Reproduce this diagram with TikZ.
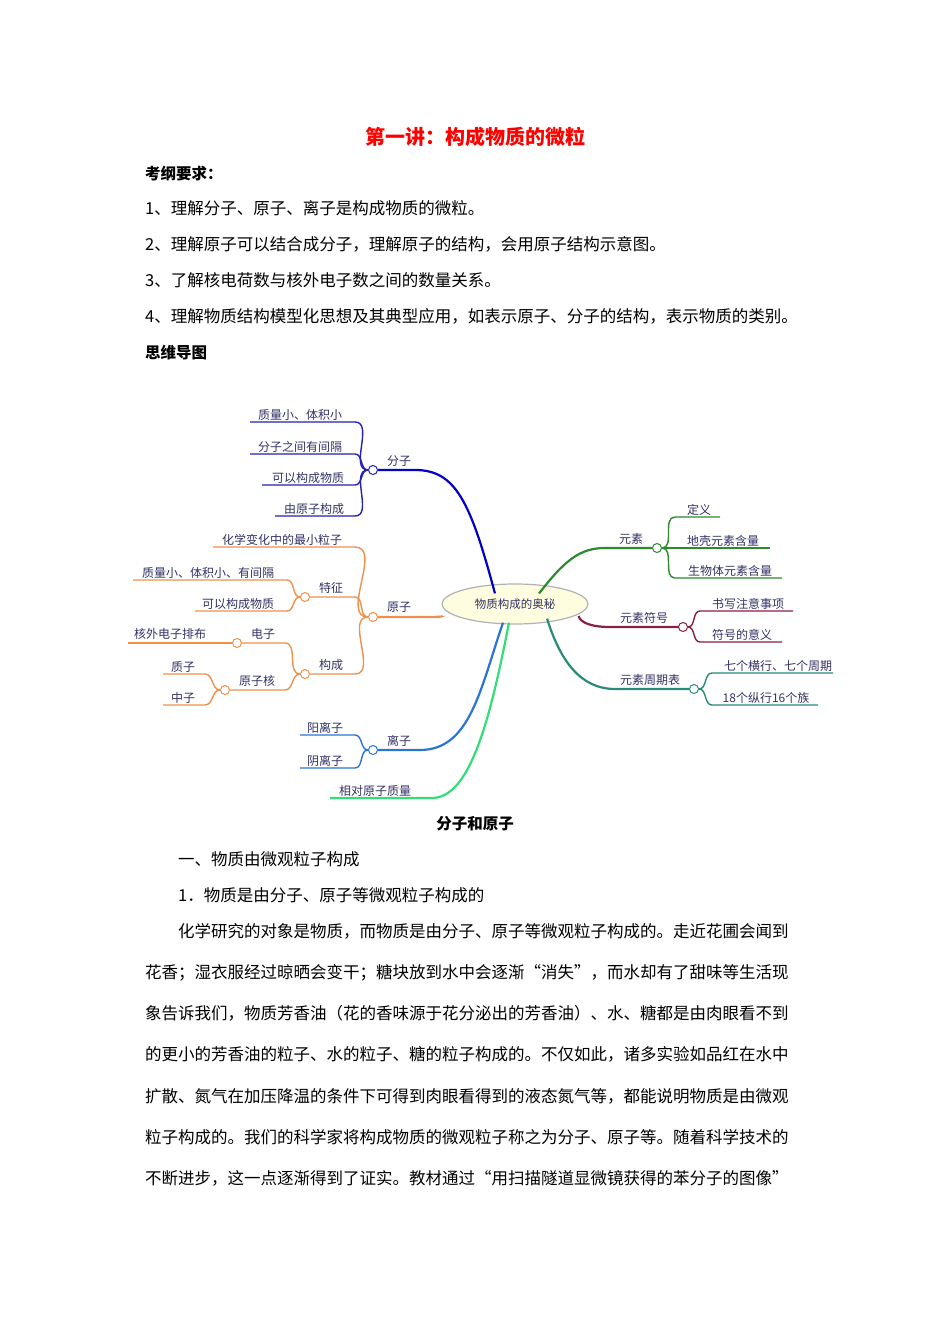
\documentclass[tikz,border=0pt]{standalone}
\usepackage{fontspec}
\setmainfont{Noto Sans CJK SC}
\usetikzlibrary{shapes.geometric}
\definecolor{fz}{HTML}{2323B0}
\definecolor{fzm}{HTML}{0000C8}
\definecolor{yz}{HTML}{F0904A}
\definecolor{lz}{HTML}{2C74D4}
\definecolor{xd}{HTML}{33DD77}
\definecolor{ys}{HTML}{2E8A2E}
\definecolor{fh}{HTML}{8A2044}
\definecolor{zq}{HTML}{2A8A7A}
\definecolor{mt}{HTML}{333366}
\tikzset{
 body/.style={anchor=base west,inner sep=0,font=\fontsize{16.5}{18}\selectfont},
 bold/.style={body,font=\fontsize{15.5}{18}\selectfont\bfseries},
 mm/.style={inner sep=1pt,text=mt,font=\fontsize{12}{13}\selectfont},
 knot/.style={circle,draw=#1,fill=white,line width=1pt,minimum size=9pt,inner sep=0},
 sub/.style={draw=#1,line width=1.4pt},
 trunk/.style={draw=#1,line width=2.2pt},
}
\newcommand\lch[8]{%
 \coordinate (#2e) at (#4,#5); \coordinate (#2s) at (#3,#5);
 \draw[sub=#7] (#1.west) to[out=180,in=0] (#2e) -- (#2s);
 \node[mm,anchor=south] (#2t) at (#8,#5) {#6};}
\newcommand\rch[8]{%
 \coordinate (#2e) at (#4,#5); \coordinate (#2s) at (#3,#5);
 \draw[sub=#7] (#1.east) to[out=0,in=180] (#2s) -- (#2e);
 \node[mm,anchor=south] (#2t) at (#8,#5) {#6};}
\begin{document}
\begin{tikzpicture}[x=1pt,y=-1pt]
\useasboundingbox (0,0) rectangle (950,1344);
\fill[white] (0,0) rectangle (950,1344);
\node[anchor=base,inner sep=0,text=red,font=\fontsize{20}{22}\selectfont\bfseries] (title) at (475,144) {第一讲：构成物质的微粒};
\node[bold] (kg) at (145,179) {考纲要求：};
\node[body] (l1) at (145,214) {1、理解分子、原子、离子是构成物质的微粒。};
\node[body] (l2) at (145,250) {2、理解原子可以结合成分子，理解原子的结构，会用原子结构示意图。};
\node[body] (l3) at (145,286) {3、了解核电荷数与核外电子数之间的数量关系。};
\node[body] (l4) at (145,322) {4、理解物质结构模型化思想及其典型应用，如表示原子、分子的结构，表示物质的类别。};
\node[bold] (sw) at (145,358) {思维导图};
\node[anchor=base,inner sep=0,font=\fontsize{15.5}{18}\selectfont\bfseries] (fzyz) at (475,829) {分子和原子};
\node[body] (p1) at (178,865) {一、物质由微观粒子构成};
\node[body] (p2) at (178,901) {1．物质是由分子、原子等微观粒子构成的};
\node[body] (q1) at (178,937) {化学研究的对象是物质，而物质是由分子、原子等微观粒子构成的。走近花圃会闻到};
\node[body] (q2) at (145,978) {花香；湿衣服经过晾晒会变干；糖块放到水中会逐渐“消失”，而水却有了甜味等生活现};
\node[body] (q3) at (145,1019) {象告诉我们，物质芳香油（花的香味源于花分泌出的芳香油）、水、糖都是由肉眼看不到};
\node[body] (q4) at (145,1060) {的更小的芳香油的粒子、水的粒子、糖的粒子构成的。不仅如此，诸多实验如品红在水中};
\node[body] (q5) at (145,1102) {扩散、氮气在加压降温的条件下可得到肉眼看得到的液态氮气等，都能说明物质是由微观};
\node[body] (q6) at (145,1143) {粒子构成的。我们的科学家将构成物质的微观粒子称之为分子、原子等。随着科学技术的};
\node[body] (q7) at (145,1184) {不断进步，这一点逐渐得到了证实。教材通过“用扫描隧道显微镜获得的苯分子的图像”};
\node[ellipse,draw=black!30,fill=yellow!12,line width=1.2pt,minimum width=146pt,minimum height=40pt,inner sep=0,text=mt,font=\fontsize{11.5}{13}\selectfont] (c) at (515,604) {物质构成的奥秘};
\node[knot=fz] (kfz) at (373,470) {};
\node[mm,anchor=south west] at (386,468) {分子};
\draw[trunk=fzm] (c.north west) ++(32,4) coordinate (a1) (a1) .. controls (470,500) and (455,470) .. (415,470) -- (kfz.east);
\node[knot=yz] (kyz) at (373,617) {};
\node[mm,anchor=south west] at (386,614) {原子};
\draw[trunk=yz] (c.west) ++(0,12) coordinate (a2) (a2) .. controls (445,617) and (430,617) .. (420,617) -- (kyz.east);
\node[knot=lz] (klz) at (373,750) {};
\node[mm,anchor=south west] at (386,748) {离子};
\draw[trunk=lz] (c.south) ++(-12,-2) coordinate (a3) (a3) .. controls (480,690) and (470,750) .. (420,750) -- (klz.east);
\coordinate (xde) at (432,798); \coordinate (xds) at (330,798);
\draw[trunk=xd] (c.south) ++(-6,-2) coordinate (a4) (a4) .. controls (490,720) and (470,798) .. (xde) -- (xds);
\node[mm,anchor=south] (xdt) at (375,798) {相对原子质量};
\node[knot=ys] (kys) at (657,548) {};
\node[mm,anchor=south] at (631,546) {元素};
\draw[trunk=ys] (c.north east) ++(-28,4) coordinate (b1) (b1) .. controls (565,560) and (580,548) .. (605,548) -- (kys.west);
\node[knot=fh] (kfh) at (683,627) {};
\node[mm,anchor=south] at (644,625) {元素符号};
\draw[trunk=fh] (c.east) ++(-10,12) coordinate (b2) (b2) .. controls (580,622) and (590,627) .. (610,627) -- (kfh.west);
\node[knot=zq] (kzq) at (694,689) {};
\node[mm,anchor=south] at (650,687) {元素周期表};
\draw[trunk=zq] (c.south east) ++(-20,0) coordinate (b3) (b3) .. controls (560,660) and (580,689) .. (615,689) -- (kzq.west);
\lch{kfz}{f1}{250}{355}{422}{质量小、体积小}{fz}{300}
\lch{kfz}{f2}{250}{355}{454}{分子之间有间隔}{fz}{300}
\lch{kfz}{f3}{262}{355}{485}{可以构成物质}{fz}{308}
\lch{kfz}{f4}{275}{355}{516}{由原子构成}{fz}{314}
\lch{kyz}{y1}{213}{355}{547}{化学变化中的最小粒子}{yz}{282}
\node[knot=yz] (ktz) at (305,597) {};
\node[mm,anchor=south] at (331,595) {特征};
\coordinate (tze) at (355,597);
\draw[sub=yz] (kyz.west) to[out=180,in=0] (tze) -- (ktz.east);
\lch{ktz}{t1}{133}{287}{580}{质量小、体积小、有间隔}{yz}{208}
\lch{ktz}{t2}{195}{287}{611}{可以构成物质}{yz}{238}
\node[knot=yz] (kgc) at (305,674) {};
\node[mm,anchor=south] at (331,672) {构成};
\coordinate (gce) at (355,674);
\draw[sub=yz] (kyz.west) to[out=180,in=0] (gce) -- (kgc.east);
\node[knot=yz] (kdz) at (237,643) {};
\node[mm,anchor=south] at (263,641) {电子};
\coordinate (dze) at (285,643);
\draw[sub=yz] (kgc.west) to[out=180,in=0] (dze) -- (kdz.east);
\coordinate (hws) at (128,643);
\draw[sub=yz] (kdz.west) -- (hws);
\node[mm,anchor=south] at (170,641) {核外电子排布};
\node[knot=yz] (kyzh) at (225,690) {};
\node[mm,anchor=south] at (257,688) {原子核};
\coordinate (yhe) at (285,690);
\draw[sub=yz] (kgc.west) to[out=180,in=0] (yhe) -- (kyzh.east);
\lch{kyzh}{h1}{163}{205}{674}{质子}{yz}{183}
\lch{kyzh}{h2}{163}{205}{705}{中子}{yz}{183}
\lch{klz}{z1}{300}{355}{735}{阳离子}{lz}{325}
\lch{klz}{z2}{300}{355}{768}{阴离子}{lz}{325}
\rch{kys}{e1}{675}{720}{517}{定义}{ys}{699}
\rch{kys}{e2}{675}{770}{548}{地壳元素含量}{ys}{723}
\rch{kys}{e3}{675}{782}{578}{生物体元素含量}{ys}{730}
\rch{kfh}{s1}{700}{793}{611}{书写注意事项}{fh}{748}
\rch{kfh}{s2}{700}{782}{642}{符号的意义}{fh}{742}
\rch{kzq}{r1}{712}{833}{673}{七个横行、七个周期}{zq}{778}
\rch{kzq}{r2}{712}{818}{705}{18个纵行16个族}{zq}{766}
\end{tikzpicture}
\end{document}
